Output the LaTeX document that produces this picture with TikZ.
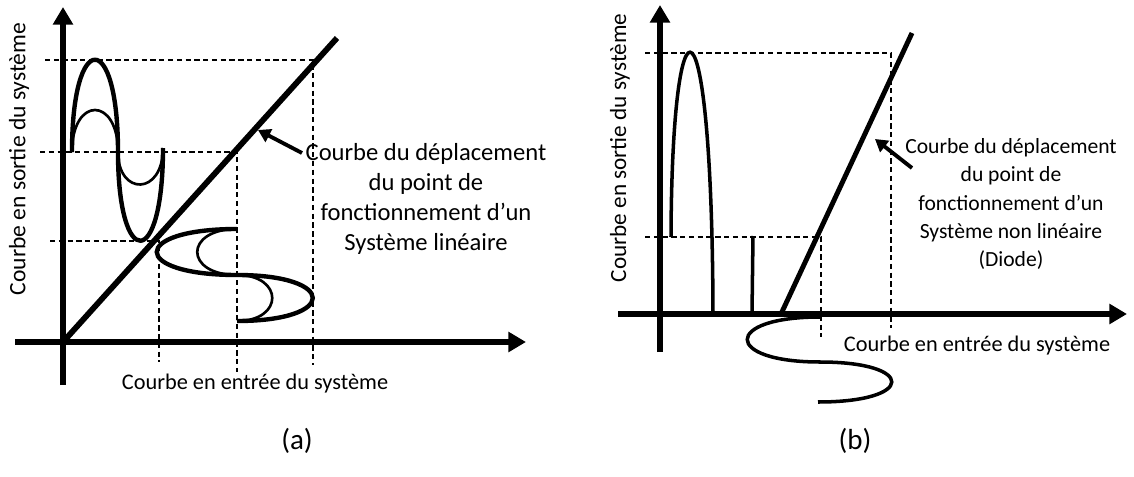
\documentclass[tikz,border=0pt]{standalone}
\usepackage{fontspec}
\setmainfont{Carlito}
\usetikzlibrary{arrows.meta}
\tikzset{
  axis/.style={line width=3.1pt, -{Triangle[length=10pt,width=11pt]}},
  guide/.style={line width=0.7pt, dash pattern=on 3pt off 2pt},
  thickcurve/.style={line width=2.5pt},
  thincurve/.style={line width=1.5pt},
  pointer/.style={line width=2.2pt, -{Triangle[length=7pt,width=8pt]}},
  legend/.style={align=center, inner sep=0pt},
}
\begin{document}
\begin{tikzpicture}[x=0.02cm,y=-0.02cm]
\useasboundingbox (0,0) rectangle (1134,477);
% (a) systeme lineaire
\draw[guide] (45,60) -- (313,60) -- (313,365);
\draw[guide] (40,152) -- (237,152) -- (237,372);
\draw[guide] (50,241) -- (159,241) -- (159,362);
\draw[axis] (15,342) -- (526,342);
\draw[axis] (63,385) -- (63,7);
\draw[line width=3.3pt] (63,342) -- (337,38);
\draw[thickcurve] (72,152) .. controls (72,29) and (118,29) .. (118,152)
  .. controls (118,271) and (163,271) .. (163,148);
\draw[thincurve] (72,152) .. controls (72,96) and (118,96) .. (118,152)
  .. controls (118,196) and (163,196) .. (163,148);
\draw[thickcurve] (237,229) .. controls (130,229) and (130,275) .. (237,275)
  .. controls (338,275) and (338,321) .. (237,321);
\draw[thincurve] (237,229) .. controls (184,229) and (184,275) .. (237,275)
  .. controls (284,275) and (284,321) .. (237,321);
\node[legend, font=\fontsize{14}{17}\selectfont] (labA) at (426,199)
  {Courbe du déplacement\\du point de\\fonctionnement d’un\\Système linéaire};
\coordinate (tailA) at (302,153);
\coordinate (tipA) at (258,130);
\draw[pointer] (tailA) -- (tipA);
\node[rotate=90, font=\fontsize{13.4}{16}\selectfont] (outA) at (19,159) {Courbe en sortie du système};
\node[font=\fontsize{12.7}{15}\selectfont] (inA) at (255,384) {Courbe en entrée du système};
\node[font=\fontsize{16.5}{19}\selectfont] (capA) at (297,441) {(a)};
% (b) systeme non lineaire
\draw[guide] (645,53) -- (891,53) -- (891,328);
\draw[guide] (645,237) -- (821,237) -- (821,337);
\draw[axis] (618,314) -- (1127,314);
\draw[axis] (660,352) -- (660,5);
\draw[line width=2.8pt] (781,314) -- (912,33);
\draw[line width=2pt] (671,237) .. controls (672,-21) and (712,-21) .. (713,314);
\draw[line width=2pt] (753,236) -- (752,314);
\draw[line width=2pt] (820,317) .. controls (723,317) and (723,362) .. (820,362)
  .. controls (916,362) and (916,402) .. (818,402);
\node[legend, font=\fontsize{12.3}{16}\selectfont] (labB) at (1011,204)
  {Courbe du déplacement\\du point de\\fonctionnement d’un\\Système non linéaire\\(Diode)};
\coordinate (tailB) at (912,168);
\coordinate (tipB) at (875,139);
\draw[pointer] (tailB) -- (tipB);
\node[rotate=90, font=\fontsize{13.2}{16}\selectfont] (outB) at (620,148) {Courbe en sortie du système};
\node[font=\fontsize{12.7}{15}\selectfont] (inB) at (977,346) {Courbe en entrée du système};
\node[font=\fontsize{16.5}{19}\selectfont] (capB) at (855,441) {(b)};
\end{tikzpicture}
\end{document}
